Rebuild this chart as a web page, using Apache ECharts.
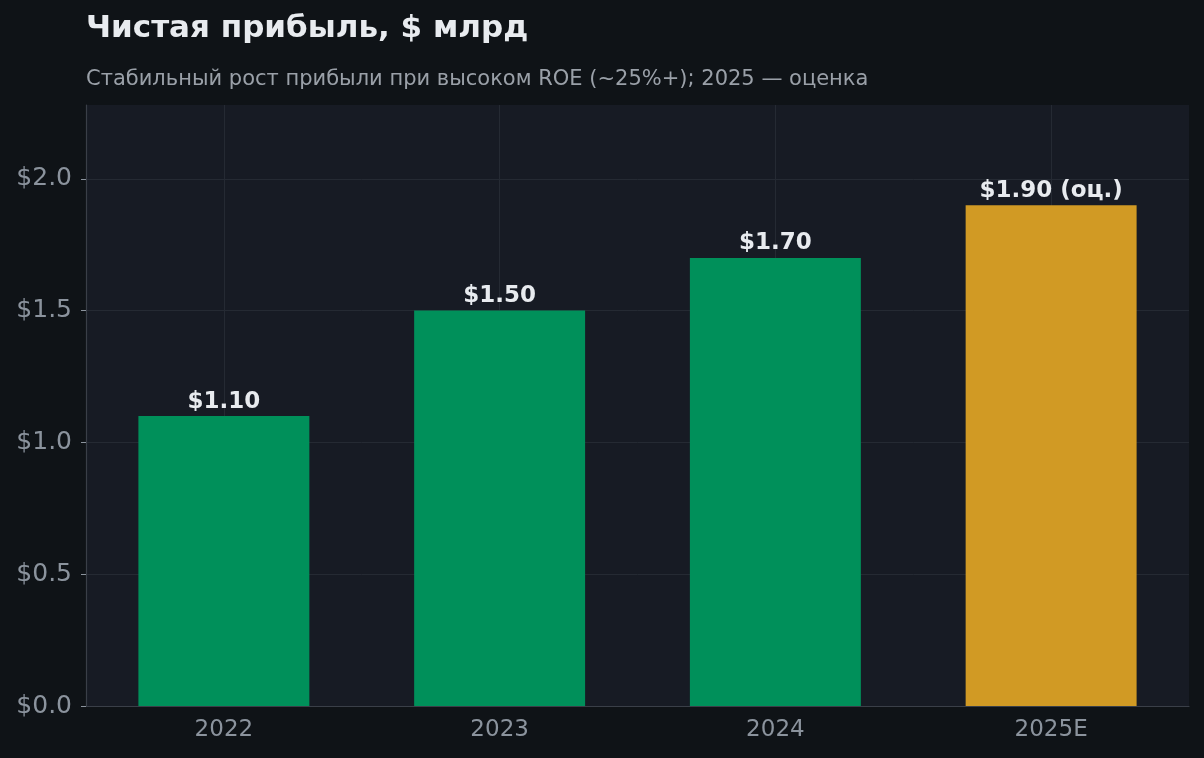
<!DOCTYPE html>
<html lang="ru">
<head>
  <meta charset="UTF-8">
  <title>Чистая прибыль</title>
  <style type="text/css">
    html, body { margin: 0; padding: 0; background: #0f1317; }
    #chart { width: 1204px; height: 758px; }
  </style>
</head>
<body>
  <div id="chart"></div>
  <script src="https://cdn.jsdelivr.net/npm/echarts@6/dist/echarts.min.js"></script>
  <script>
    const years = ['2022', '2023', '2024', '2025E']
    const profit = [1.10, 1.50, 1.70, 1.90]
    const barLabels = ['$1.10', '$1.50', '$1.70', '$1.90 (оц.)']
    const isEstimate = [false, false, false, true]

    const GREEN = '#00905a'
    const GOLD = '#d19a24'
    const GRID = '#252a33'
    const MUTED = '#8b939d'
    const FONT = 'DejaVu Sans'

    const chart = echarts.init(document.getElementById('chart'))

    chart.setOption({
      backgroundColor: '#0f1317',
      animation: false,
      textStyle: { fontFamily: FONT },
      title: {
        text: 'Чистая прибыль, $ млрд',
        subtext: 'Стабильный рост прибыли при высоком ROE (~25%+); 2025 — оценка',
        left: 86,
        top: 13,
        padding: 0,
        itemGap: 25,
        textStyle: { color: '#e8ebef', fontSize: 31, lineHeight: 31, fontWeight: 'bold', fontFamily: FONT },
        subtextStyle: { color: '#9aa0a8', fontSize: 21, lineHeight: 21, fontFamily: FONT }
      },
      grid: {
        left: 86, right: 15, top: 105, bottom: 52,
        show: true,
        backgroundColor: '#171b24',
        borderWidth: 0
      },
      xAxis: {
        type: 'category',
        data: years,
        axisLine: { lineStyle: { color: '#3a3f48', width: 1.2 } },
        axisTick: { alignWithLabel: true, length: 5, lineStyle: { color: MUTED } },
        axisLabel: { color: MUTED, fontSize: 23, margin: 13 },
        splitLine: { show: false }
      },
      yAxis: {
        type: 'value',
        min: 0,
        max: 2.28,
        interval: 0.5,
        axisLine: { show: true, lineStyle: { color: '#3a3f48', width: 1.2 } },
        axisTick: { show: true, length: 5, lineStyle: { color: MUTED } },
        axisLabel: {
          color: MUTED, fontSize: 25, margin: 14, showMaxLabel: false,
          formatter: v => '$' + v.toFixed(1)
        },
        splitLine: { showMaxLine: false, lineStyle: { color: GRID, width: 1 } }
      },
      series: [
        {
          type: 'line',
          data: [],
          z: 1,
          silent: true,
          markLine: {
            silent: true,
            z: 1,
            symbol: 'none',
            label: { show: false },
            lineStyle: { color: GRID, width: 1, type: 'solid' },
            data: years.map(y => ({ xAxis: y }))
          }
        },
        {
          type: 'bar',
          z: 3,
          barWidth: '62%',
          data: profit.map((v, i) => ({
            value: v,
            itemStyle: { color: isEstimate[i] ? GOLD : GREEN }
          })),
          label: {
            show: true,
            position: 'top',
            distance: 3,
            color: '#e8ebef',
            fontSize: 23,
            fontWeight: 'bold',
            fontFamily: FONT,
            formatter: p => barLabels[p.dataIndex]
          }
        }
      ]
    })
  </script>
</body>
</html>
